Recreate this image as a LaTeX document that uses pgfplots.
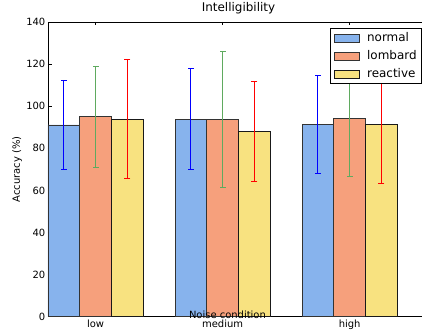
\documentclass[border=0pt]{standalone}
\usepackage{fontspec}
\setmainfont{DejaVu Sans}
\usepackage{pgfplots}
\pgfplotsset{compat=1.18}
\definecolor{cnormal}{RGB}{135,179,237}
\definecolor{clombard}{RGB}{246,160,124}
\definecolor{creactive}{RGB}{248,226,128}
\definecolor{egreen}{RGB}{95,170,95}
\pgfplotsset{
  estem/.style={fill=#1, draw=none, forget plot, mark=none},
  ecap/.style={only marks, forget plot, mark=-, mark size=3bp, mark options={solid, draw=#1, line width=1bp}}}
\begin{document}
\begin{tikzpicture}
\useasboundingbox (0bp,0bp) rectangle (422bp,332bp);
\begin{scope}[overlay]
\begin{axis}[
  at={(48bp,15.3bp)}, anchor=south west,
  scale only axis, width=381bp, height=294.7bp,
  xmin=0, xmax=3, ymin=0, ymax=140,
  ytick={0,20,...,140},
  xtick={0.375,1.375,2.375}, xticklabels={low,medium,high},
  tick align=inside, major tick length=3.5bp,
  axis line style={line width=0.8bp},
  every tick/.style={black, line width=0.8bp},
  /pgf/number format/assume math mode=true,
  tick label style={font=\fontsize{10}{12}\selectfont},
  xticklabel style={inner sep=0pt, yshift=-3.5bp},
  yticklabel style={inner sep=0pt, xshift=-2.5bp},
  title={Intelligibility},
  title style={font=\fontsize{12}{14}\selectfont, at={(axis description cs:0.5,1)}, anchor=base, yshift=4.7bp},
  xlabel={Noise condition},
  xlabel style={font=\fontsize{10}{12}\selectfont, at={(axis description cs:0.471,-0.005)}, anchor=base},
  ylabel={Accuracy (\%)},
  ylabel style={font=\fontsize{10}{12}\selectfont, at={(axis description cs:-0.081,0.5)}, anchor=center},
  legend style={at={(axis description cs:0.740,0.980)}, anchor=north west, draw=black, line width=0.8bp,
    font=\fontsize{12}{14}\selectfont, inner xsep=4bp, inner ysep=3bp,
    nodes={inner sep=1bp, text height=9bp, text depth=2.5bp}, row sep=4.5bp, column sep=6bp},
  legend cell align=left,
]
\addplot[ybar, bar width=0.25, bar shift=0pt, fill=cnormal, draw=black!80, line width=0.8bp,
  legend image code/.code={\draw[fill=cnormal, draw=black!80, line width=0.8bp] (0bp,-4bp) rectangle (25bp,4bp);}]
  coordinates {(0.125,91.1) (1.125,93.9) (2.125,91.2)};
\addlegendentry{normal}
\addplot[estem=blue] coordinates {(0.121,70.1) (0.129,70.1) (0.129,112.1) (0.121,112.1)} -- cycle;
\addplot[estem=blue] coordinates {(1.121,70.1) (1.129,70.1) (1.129,117.7) (1.121,117.7)} -- cycle;
\addplot[estem=blue] coordinates {(2.121,67.9) (2.129,67.9) (2.129,114.5) (2.121,114.5)} -- cycle;
\addplot[ecap=blue] coordinates {(0.125,70.1) (0.125,112.1) (1.125,70.1) (1.125,117.7) (2.125,67.9) (2.125,114.5)};
\addplot[ybar, bar width=0.25, bar shift=0pt, fill=clombard, draw=black!80, line width=0.8bp,
  legend image code/.code={\draw[fill=clombard, draw=black!80, line width=0.8bp] (0bp,-4bp) rectangle (25bp,4bp);}]
  coordinates {(0.375,95.0) (1.375,93.9) (2.375,94.1)};
\addlegendentry{lombard}
\addplot[estem=egreen] coordinates {(0.371,71.0) (0.379,71.0) (0.379,119.0) (0.371,119.0)} -- cycle;
\addplot[estem=egreen] coordinates {(1.371,61.6) (1.379,61.6) (1.379,126.2) (1.371,126.2)} -- cycle;
\addplot[estem=egreen] coordinates {(2.371,66.5) (2.379,66.5) (2.379,121.7) (2.371,121.7)} -- cycle;
\addplot[ecap=egreen] coordinates {(0.375,71.0) (0.375,119.0) (1.375,61.6) (1.375,126.2) (2.375,66.5) (2.375,121.7)};
\addplot[ybar, bar width=0.25, bar shift=0pt, fill=creactive, draw=black!90, line width=0.8bp,
  legend image code/.code={\draw[fill=creactive, draw=black!90, line width=0.8bp] (0bp,-4bp) rectangle (25bp,4bp);}]
  coordinates {(0.625,93.8) (1.625,88.1) (2.625,91.5)};
\addlegendentry{reactive}
\addplot[estem=red] coordinates {(0.621,65.6) (0.629,65.6) (0.629,122.0) (0.621,122.0)} -- cycle;
\addplot[estem=red] coordinates {(1.621,64.3) (1.629,64.3) (1.629,111.9) (1.621,111.9)} -- cycle;
\addplot[estem=red] coordinates {(2.621,63.4) (2.629,63.4) (2.629,119.6) (2.621,119.6)} -- cycle;
\addplot[ecap=red] coordinates {(0.625,65.6) (0.625,122.0) (1.625,64.3) (1.625,111.9) (2.625,63.4) (2.625,119.6)};
\end{axis}
\end{scope}
\end{tikzpicture}
\end{document}
